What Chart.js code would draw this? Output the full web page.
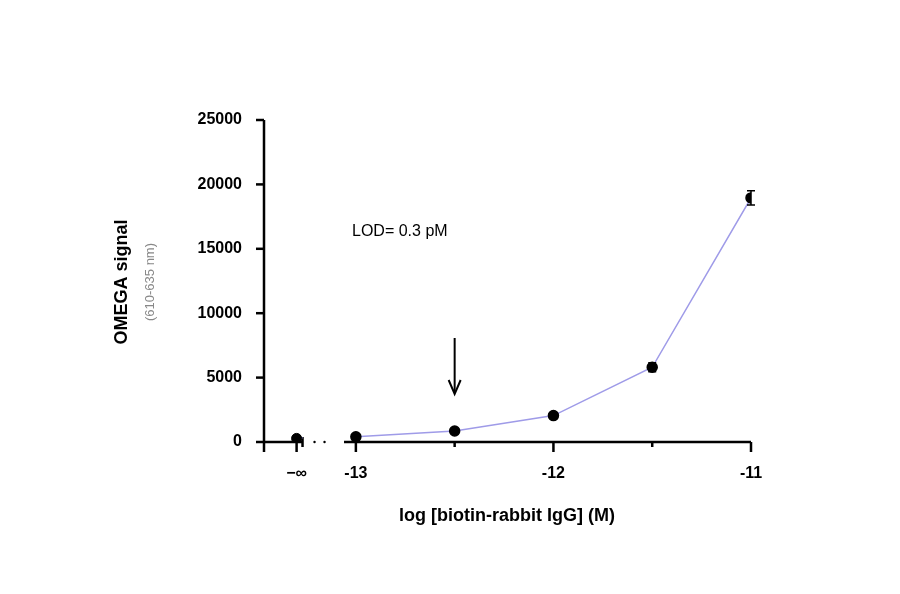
<!DOCTYPE html>
<html><head><meta charset="utf-8">
<script src="https://cdn.jsdelivr.net/npm/chart.js@4"></script>
<style>body{margin:0;background:#fff}#w{width:900px;height:594px}</style>
</head><body><div id="w"><canvas id="c"></canvas></div>
<script>
// data
const logConc = [-13, -12.5, -12, -11.5, -11];
const signal = [400, 850, 2050, 5800, 18950];
const signalErr = [80, 100, 150, 350, 550];
const blankX = -13.3;   // position of the "-inf" point
const blankSignal = 280;
const xTicks = [blankX, -13, -12, -11];
const xMinorTicks = [-12.5, -11.5];
const yTicks = [0, 5000, 10000, 15000, 20000, 25000];

const ink = '#000';
const lineColor = '#9f9be8';

const extras = {
  id: 'extras',
  beforeDatasetsDraw(chart) {
    const ctx = chart.ctx, x = chart.scales.x, y = chart.scales.y;
    const y0 = y.getPixelForValue(0), left = chart.chartArea.left;
    ctx.save();
    ctx.strokeStyle = ink; ctx.lineWidth = 2.5;
    // y axis
    ctx.beginPath(); ctx.moveTo(left, y.getPixelForValue(25000)); ctx.lineTo(left, y0 + 10); ctx.stroke();
    yTicks.forEach(v => { const p = y.getPixelForValue(v); ctx.beginPath(); ctx.moveTo(left - 8, p); ctx.lineTo(left, p); ctx.stroke(); });
    // broken x axis
    const breakA = x.getPixelForValue(-13.27), breakB = x.getPixelForValue(-13.06);
    ctx.beginPath(); ctx.moveTo(left, y0); ctx.lineTo(breakA, y0); ctx.stroke();
    ctx.beginPath(); ctx.moveTo(breakA, y0 - 5); ctx.lineTo(breakA, y0 + 5); ctx.stroke();
    ctx.beginPath(); ctx.moveTo(breakB, y0); ctx.lineTo(chart.chartArea.right, y0); ctx.stroke();
    ctx.fillStyle = ink;
    [breakA + 12, breakA + 22].forEach(d => { ctx.beginPath(); ctx.arc(d, y0, 1.2, 0, 7); ctx.fill(); });
    xTicks.forEach(v => { const p = x.getPixelForValue(v); ctx.beginPath(); ctx.moveTo(p, y0); ctx.lineTo(p, y0 + 10); ctx.stroke(); });
    xMinorTicks.forEach(v => { const p = x.getPixelForValue(v); ctx.beginPath(); ctx.moveTo(p, y0); ctx.lineTo(p, y0 + 5); ctx.stroke(); });
    // blank segment up to the break
    ctx.strokeStyle = lineColor; ctx.lineWidth = 1.5;
    ctx.beginPath(); ctx.moveTo(x.getPixelForValue(blankX), y.getPixelForValue(blankSignal));
    ctx.lineTo(breakA, y.getPixelForValue(blankSignal + 50)); ctx.stroke();
    ctx.restore();
  },
  afterDatasetsDraw(chart) {
    const ctx = chart.ctx, x = chart.scales.x, y = chart.scales.y;
    ctx.save();
    // error bars
    ctx.strokeStyle = ink; ctx.lineWidth = 1.5;
    logConc.forEach((v, i) => {
      const px = x.getPixelForValue(v), hi = y.getPixelForValue(signal[i] + signalErr[i]), lo = y.getPixelForValue(signal[i] - signalErr[i]);
      ctx.beginPath(); ctx.moveTo(px, hi); ctx.lineTo(px, lo);
      ctx.moveTo(px - 4, hi); ctx.lineTo(px + 4, hi); ctx.moveTo(px - 4, lo); ctx.lineTo(px + 4, lo); ctx.stroke();
    });
    // LOD arrow
    const ax = x.getPixelForValue(-12.5);
    ctx.lineWidth = 2;
    ctx.beginPath(); ctx.moveTo(ax, 338); ctx.lineTo(ax, 392); ctx.stroke();
    ctx.beginPath(); ctx.moveTo(ax - 6, 380); ctx.lineTo(ax, 394); ctx.lineTo(ax + 6, 380); ctx.stroke();
    // texts
    ctx.fillStyle = ink; ctx.textAlign = 'left'; ctx.textBaseline = 'middle';
    ctx.font = '16px "Liberation Sans", Arial, sans-serif';
    ctx.fillText('LOD= 0.3 pM', 352, 232);
    ctx.textAlign = 'center';
    ctx.font = 'bold 18px "Liberation Sans", Arial, sans-serif';
    ctx.fillText('log [biotin-rabbit IgG] (M)', 507, 516);
    ctx.translate(128, 282); ctx.rotate(-Math.PI / 2);
    ctx.fillText('OMEGA signal', 0, -6);
    ctx.fillStyle = '#888'; ctx.font = '13px "Liberation Sans", Arial, sans-serif';
    ctx.fillText('(610-635 nm)', 0, 22);
    ctx.restore();
  }
};

const tickFont = { family: '"Liberation Sans", Arial', size: 16, weight: 'bold' };

new Chart(document.getElementById('c'), {
  type: 'scatter',
  data: {
    datasets: [
      { data: logConc.map((v, i) => ({ x: v, y: signal[i] })), showLine: true, borderColor: lineColor, borderWidth: 1.5,
        pointBackgroundColor: ink, pointBorderColor: ink, pointRadius: 5 },
      { data: [{ x: blankX, y: blankSignal }], pointBackgroundColor: ink, pointBorderColor: ink, pointRadius: 5 }
    ]
  },
  options: {
    responsive: true, maintainAspectRatio: false, animation: false,
    layout: { padding: { top: 120, right: 149, left: 0, bottom: 0 } },
    plugins: { legend: { display: false }, tooltip: { enabled: false } },
    scales: {
      x: {
        type: 'linear', min: -13.465, max: -11,
        border: { display: false }, grid: { display: false },
        afterBuildTicks: s => { s.ticks = xTicks.map(v => ({ value: v })); },
        afterFit: s => { s.height = 152; },
        ticks: { color: ink, padding: 14, maxRotation: 0, font: tickFont,
          callback: v => v === blankX ? '\u2212\u221e' : String(v) }
      },
      y: {
        min: 0, max: 25000,
        border: { display: false }, grid: { display: false },
        afterBuildTicks: s => { s.ticks = yTicks.map(v => ({ value: v })); },
        afterFit: s => { s.width = 264; },
        ticks: { color: ink, padding: 14, font: tickFont, callback: v => String(v) }
      }
    }
  },
  plugins: [extras]
});
</script></body></html>
